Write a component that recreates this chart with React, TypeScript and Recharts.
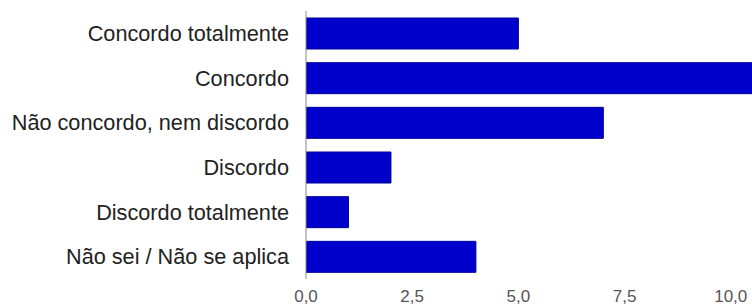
import React from "react";
import { BarChart, Bar, XAxis, YAxis } from "recharts";

const categories = [
  "Concordo totalmente",
  "Concordo",
  "Não concordo, nem discordo",
  "Discordo",
  "Discordo totalmente",
  "Não sei / Não se aplica",
];
const answers = [5, 11, 7, 2, 1, 4];
const xTicks = [0, 2.5, 5, 7.5, 10];

const data = categories.map((name, i) => ({ name, value: answers[i] }));

const fmt = (v: number) => v.toFixed(1).replace(".", ",");

const App = () => {
  return (
    <div style={{ position: "absolute", left: 0, top: 0, fontFamily: "'Liberation Sans', Arial, sans-serif" }}>
      <BarChart
        width={752}
        height={306}
        data={data}
        layout="vertical"
        margin={{ top: 11, right: 0, bottom: 0, left: 0 }}
        style={{ fontFamily: "'Liberation Sans', Arial, sans-serif" }}
      >
        <XAxis
          type="number"
          domain={[0, 10.5]}
          ticks={xTicks}
          allowDataOverflow
          axisLine={false}
          tickLine={false}
          tickSize={0}
          tickMargin={11}
          height={27}
          tickFormatter={fmt}
          tick={{ fontSize: 17, fill: "#555" }}
        />
        <YAxis
          type="category"
          dataKey="name"
          width={306}
          axisLine={{ stroke: "#888" }}
          tickLine={false}
          tickSize={0}
          tickMargin={17}
          interval={0}
          tick={{ fontSize: 21.7, fill: "#222" }}
        />
        <Bar dataKey="value" fill="#0000cc" stroke="#00009a" strokeWidth={1} barSize={31} isAnimationActive={false} />
      </BarChart>
    </div>
  );
};

export default App;
